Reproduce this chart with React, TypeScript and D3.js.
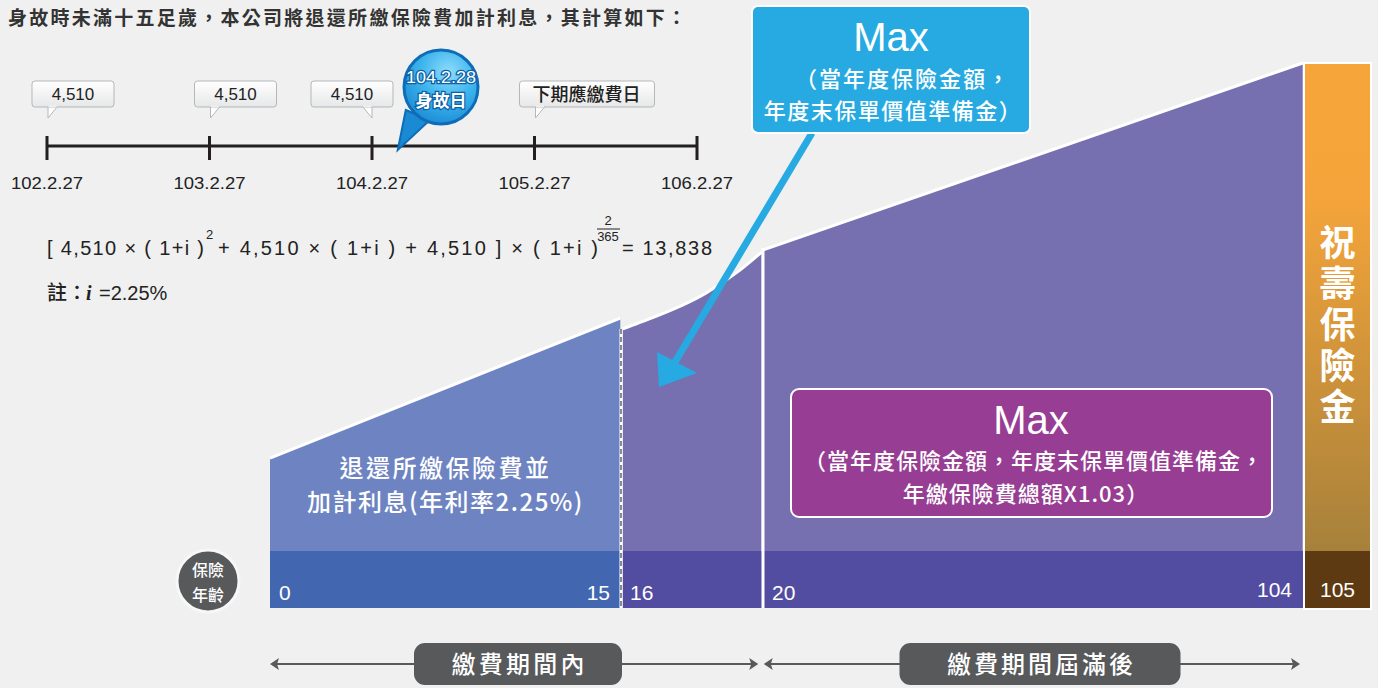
import React from "react";
import * as d3 from "d3";

// ---- data ----
const timelineDates = ["102.2.27", "103.2.27", "104.2.27", "105.2.27", "106.2.27"];
const premiums = [4510, 4510, 4510];
const premiumDates = ["102.2.27", "103.2.27", "104.2.27"];
const deathDate = "104.2.28";
const nextDueLabel = "下期應繳費日";

// age axis boundaries: [start, end) of each stage
const stageAges = [0, 16, 20, 105, 106];
// top edge of each stage (age, relative benefit level)
const refundTop: [number, number][] = [[0, 27.5], [15.97, 53.2]];
const earlyTop: [number, number][] = [[16.05, 51.2], [16.5, 52.3], [18.4, 57.8], [19.35, 62], [19.96, 65.3]];
const laterTop: [number, number][] = [[20.05, 65.7], [104.95, 100]];
const maturityTop = 100;
const ageLabels = [
  { age: 0, text: "0", anchor: "start" },
  { age: 16, text: "15", anchor: "end" },
  { age: 16, text: "16", anchor: "start" },
  { age: 20, text: "20", anchor: "start" },
  { age: 105, text: "104", anchor: "end" },
  { age: 105.5, text: "105", anchor: "middle" },
];
const periods = [
  { from: 0, to: 19.95, label: "繳費期間內" },
  { from: 20.12, to: 105, label: "繳費期間屆滿後" },
];

const FONT = "'Liberation Sans', Arial, 'Noto Sans CJK TC', sans-serif";
const CJK = "'Noto Sans CJK TC', 'Liberation Sans', sans-serif";

export default function App() {
  const W = 1378, H = 688;
  const x = d3.scaleLinear().domain(stageAges).range([270, 621, 763, 1303, 1372]);
  const y = d3.scaleLinear().domain([0, 100]).range([608, 63]);
  const tx = d3.scalePoint<string>().domain(timelineDates).range([47, 697]);
  const bandTop = 551;
  const base = y(0);

  const area = d3.area<[number, number]>().x((d) => x(d[0])).y0(base).y1((d) => y(d[1]));
  const line = d3.line<[number, number]>().x((d) => x(d[0])).y((d) => y(d[1]));
  const curveArea = d3.area<[number, number]>().x((d) => x(d[0])).y0(base).y1((d) => y(d[1])).curve(d3.curveMonotoneX);
  const curveLine = d3.line<[number, number]>().x((d) => x(d[0])).y((d) => y(d[1])).curve(d3.curveMonotoneX);

  const fmt = d3.format(",");
  const deathX = tx("104.2.27")! + (tx("105.2.27")! - tx("104.2.27")!) / 6.3;

  const pill = (label: string) => label.length * 26.6;

  return (
    <svg width={W} height={H} style={{ position: "absolute", left: 0, top: 0, display: "block" }}>
      <defs>
        <linearGradient id="orange" x1="0" y1="0" x2="0" y2="1">
          <stop offset="0%" stopColor="#f6a53a" />
          <stop offset="25%" stopColor="#f4a43a" />
          <stop offset="100%" stopColor="#9a7b3b" />
        </linearGradient>
        <linearGradient id="tag" x1="0" y1="0" x2="0" y2="1">
          <stop offset="0%" stopColor="#ffffff" />
          <stop offset="100%" stopColor="#e6e7e8" />
        </linearGradient>
        <radialGradient id="bubble" cx="0.6" cy="0.3" r="0.8">
          <stop offset="0%" stopColor="#8fdcfa" />
          <stop offset="45%" stopColor="#3fb6ee" />
          <stop offset="100%" stopColor="#1585d2" />
        </radialGradient>
      </defs>
      <rect width={W} height={H} fill="#eff0ef" />

      <text x={8} y={25} fontFamily={CJK} fontWeight="bold" fontSize={19} fill="#333" textLength={678} lengthAdjust="spacing">
        身故時未滿十五足歲，本公司將退還所繳保險費加計利息，其計算如下：
      </text>

      {/* timeline */}
      <line x1={tx(timelineDates[0])} x2={tx(timelineDates[4])} y1={146} y2={146} stroke="#231f20" strokeWidth={3} />
      {timelineDates.map((d) => (
        <g key={d}>
          <line x1={tx(d)} x2={tx(d)} y1={136} y2={160} stroke="#231f20" strokeWidth={3} />
          <text x={tx(d)! - 36} y={189} fontFamily={FONT} fontSize={17} fill="#222" textLength={72} lengthAdjust="spacingAndGlyphs">{d}</text>
        </g>
      ))}

      {premiums.map((p, i) => {
        const px = tx(premiumDates[i])!;
        const right = i === 2;
        const bx = right ? px - 61 : px - 15;
        return (
          <g key={i}>
            <path
              d={right ? `M${px - 9},107 L${px},118 L${px},107 Z` : `M${px + 1},107 L${px + 1},118 L${px + 10},107 Z`}
              fill="#fff" stroke="#b5b7b9" strokeWidth={1}
            />
            <rect x={bx} y={81} width={82} height={26} rx={3} fill="url(#tag)" stroke="#b5b7b9" />
            <path d={right ? `M${px - 8.5},106.5 L${px - 0.5},106.5` : `M${px + 1.5},106.5 L${px + 9.5},106.5`} stroke="#f0f0f0" strokeWidth={2} />
            <text x={bx + 41} y={100} textAnchor="middle" fontFamily={FONT} fontSize={17} fill="#222">{fmt(p)}</text>
          </g>
        );
      })}
      {(() => {
        const px = tx("105.2.27")!;
        return (
          <g>
            <path d={`M${px + 1},107 L${px + 1},118 L${px + 10},107 Z`} fill="#fff" stroke="#b5b7b9" />
            <rect x={px - 15} y={81} width={135} height={26} rx={3} fill="url(#tag)" stroke="#b5b7b9" />
            <path d={`M${px + 1.5},106.5 L${px + 9.5},106.5`} stroke="#f0f0f0" strokeWidth={2} />
            <text x={px + 52} y={101} textAnchor="middle" fontFamily={CJK} fontSize={18} fontWeight="500" fill="#222">{nextDueLabel}</text>
          </g>
        );
      })()}

      {/* death bubble */}
      <g>
        <path d={`M${deathX + 8},110 L${deathX},150 L${deathX + 32},120 Z`} fill="#1a8ad4" stroke="#0f6db8" strokeWidth={2} />
        <circle cx={441} cy={87} r={37} fill="url(#bubble)" stroke="#0f6db8" strokeWidth={3} />
        <text x={406} y={83} fontFamily={FONT} fontSize={17} fill="#fff" stroke="#0d5fa6" strokeWidth={2.5} paintOrder="stroke" textLength={70} lengthAdjust="spacingAndGlyphs">{deathDate}</text>
        <text x={441} y={107} textAnchor="middle" fontFamily={CJK} fontSize={17} fontWeight="bold" fill="#fff" stroke="#0d5fa6" strokeWidth={2.5} paintOrder="stroke">身故日</text>
      </g>

      {/* formula */}
      <g fontFamily={FONT} fontSize={20} fill="#222">
        <text x={47} y={255} textLength={157} lengthAdjust="spacing">[ 4,510 × ( 1+i )</text>
        <text x={206} y={239} fontSize={13}>2</text>
        <text x={218} y={255} textLength={380} lengthAdjust="spacing">+ 4,510 × ( 1+i ) + 4,510 ] × ( 1+i )</text>
        <text x={608} y={225} fontSize={13} textAnchor="middle">2</text>
        <line x1={597} x2={620} y1={229} y2={229} stroke="#222" strokeWidth={1} />
        <text x={608} y={241} fontSize={13} textAnchor="middle">365</text>
        <text x={622} y={255} textLength={90} lengthAdjust="spacing">= 13,838</text>
      </g>
      <g fontSize={20} fill="#222">
        <text x={47} y={300} fontFamily={CJK} fontWeight="500">註：</text>
        <text x={86} y={300} fontFamily="'Liberation Serif', serif" fontStyle="italic" fontWeight="bold">i</text>
        <text x={99} y={300} fontFamily={FONT}>=2.25%</text>
      </g>

      {/* stages */}
      <path d={area(refundTop)!} fill="#6e84c2" />
      <rect x={x(0)} y={bandTop} width={x(15.97) - x(0)} height={base - bandTop} fill="#4267b0" />
      <path d={line(refundTop)!} fill="none" stroke="#fff" strokeWidth={3} />

      <path d={curveArea(earlyTop)!} fill="#7670b0" />
      <path d={area(laterTop)!} fill="#7670b0" />
      <rect x={x(16.05)} y={bandTop} width={x(105) - x(16.05)} height={base - bandTop} fill="#524da0" />
      <path d={curveLine(earlyTop)!} fill="none" stroke="#fff" strokeWidth={3} />
      <path d={line(laterTop)!} fill="none" stroke="#fff" strokeWidth={3} />

      <line x1={x(16)} x2={x(16)} y1={y(earlyTop[0][1])} y2={base} stroke="#fff" strokeWidth={3} />
      <line x1={x(16)} x2={x(16)} y1={y(earlyTop[0][1])} y2={base} stroke="#8a8a8e" strokeWidth={2} strokeDasharray="5 3" />
      <line x1={x(20)} x2={x(20)} y1={y(laterTop[0][1]) - 2} y2={base} stroke="#fff" strokeWidth={3} />

      <rect x={x(105) + 1} y={y(maturityTop)} width={x(106) - x(105) - 2} height={base - y(maturityTop)} fill="url(#orange)" stroke="#fff" strokeWidth={2} />
      <rect x={x(105) + 2} y={bandTop} width={x(106) - x(105) - 4} height={base - bandTop} fill="#5e3a13" />
      <line x1={x(105)} x2={x(106)} y1={base + 1} y2={base + 1} stroke="#fff" strokeWidth={2} />

      <text x={(x(105) + x(106)) / 2} y={224} fontFamily={CJK} fontWeight="bold" fontSize={36} fill="#fff" letterSpacing={5} style={{ writingMode: "vertical-rl" }}>
        祝壽保險金
      </text>

      {ageLabels.map((a, i) => {
        const pad = a.anchor === "start" ? 9 : a.anchor === "end" ? -11 : 0;
        return (
          <text key={i} x={x(a.age) + pad} y={a.text === "104" || a.text === "105" ? 597 : 600} textAnchor={a.anchor as any} fontFamily={FONT} fontSize={21} fill="#fff">{a.text}</text>
        );
      })}

      <text x={(x(0) + x(16)) / 2} y={477} textAnchor="middle" fontFamily={CJK} fontSize={24} fontWeight="500" fill="#fff" letterSpacing={2.5}>退還所繳保險費並</text>
      <text x={(x(0) + x(16)) / 2} y={511} textAnchor="middle" fontFamily={CJK} fontSize={24} fontWeight="500" fill="#fff" letterSpacing={1.5}>加計利息(年利率2.25%)</text>

      {/* age badge */}
      <circle cx={208} cy={581} r={31} fill="#58595b" stroke="#f7f7f7" strokeWidth={3} />
      <text x={208} y={576} textAnchor="middle" fontFamily={CJK} fontSize={16} fontWeight="500" fill="#fff">保險</text>
      <text x={208} y={601} textAnchor="middle" fontFamily={CJK} fontSize={16} fontWeight="500" fill="#fff">年齡</text>

      {/* purple box */}
      <rect x={791} y={389} width={481} height={128} rx={8} fill="#973d93" stroke="#fff" strokeWidth={2} />
      <text x={1031} y={434} textAnchor="middle" fontFamily={FONT} fontSize={40} fill="#fff">Max</text>
      <text x={1034} y={469} textAnchor="middle" fontFamily={CJK} fontSize={22} fontWeight="500" fill="#fff" letterSpacing={1}>（當年度保險金額，年度末保單價值準備金，</text>
      <text x={1026} y={502} textAnchor="middle" fontFamily={CJK} fontSize={22} fontWeight="500" fill="#fff" letterSpacing={1}>年繳保險費總額X1.03）</text>

      {/* blue callout + arrow */}
      <line x1={812} x2={675} y1={133} y2={362} stroke="#27aae1" strokeWidth={7} />
      <path d="M657,352 L697,373 L659,387 Z" fill="#27aae1" />
      <rect x={752} y={6} width={278} height={127} rx={6} fill="#27aae1" stroke="#fff" strokeWidth={2} />
      <text x={891} y={51} textAnchor="middle" fontFamily={FONT} fontSize={40} fill="#fff">Max</text>
      <text x={903} y={87} textAnchor="middle" fontFamily={CJK} fontSize={22} fontWeight="500" fill="#fff" letterSpacing={2}>（當年度保險金額，</text>
      <text x={893} y={119} textAnchor="middle" fontFamily={CJK} fontSize={22} fontWeight="500" fill="#fff" letterSpacing={1.5}>年度末保單價值準備金）</text>

      {/* period arrows */}
      {periods.map((p, i) => {
        const x1 = x(p.from), x2 = x(p.to) - 3;
        const cx = i === 0 ? 518 : 1040;
        const w = i === 0 ? 208 : 281;
        return (
          <g key={i}>
            <line x1={x1 + 2} x2={x2 - 2} y1={664} y2={664} stroke="#58595b" strokeWidth={2} />
            <path d={`M${x1},664 L${x1 + 9},658 L${x1 + 7},664 L${x1 + 9},670 Z`} fill="#58595b" />
            <path d={`M${x2},664 L${x2 - 9},658 L${x2 - 7},664 L${x2 - 9},670 Z`} fill="#58595b" />
            <rect x={cx - w / 2} y={643} width={w} height={42} rx={11} fill="#58595b" />
            <text x={cx - pill(p.label) / 2} y={673} fontFamily={CJK} fontSize={24} fontWeight="500" fill="#fff" textLength={pill(p.label)} lengthAdjust="spacing">{p.label}</text>
          </g>
        );
      })}
    </svg>
  );
}
